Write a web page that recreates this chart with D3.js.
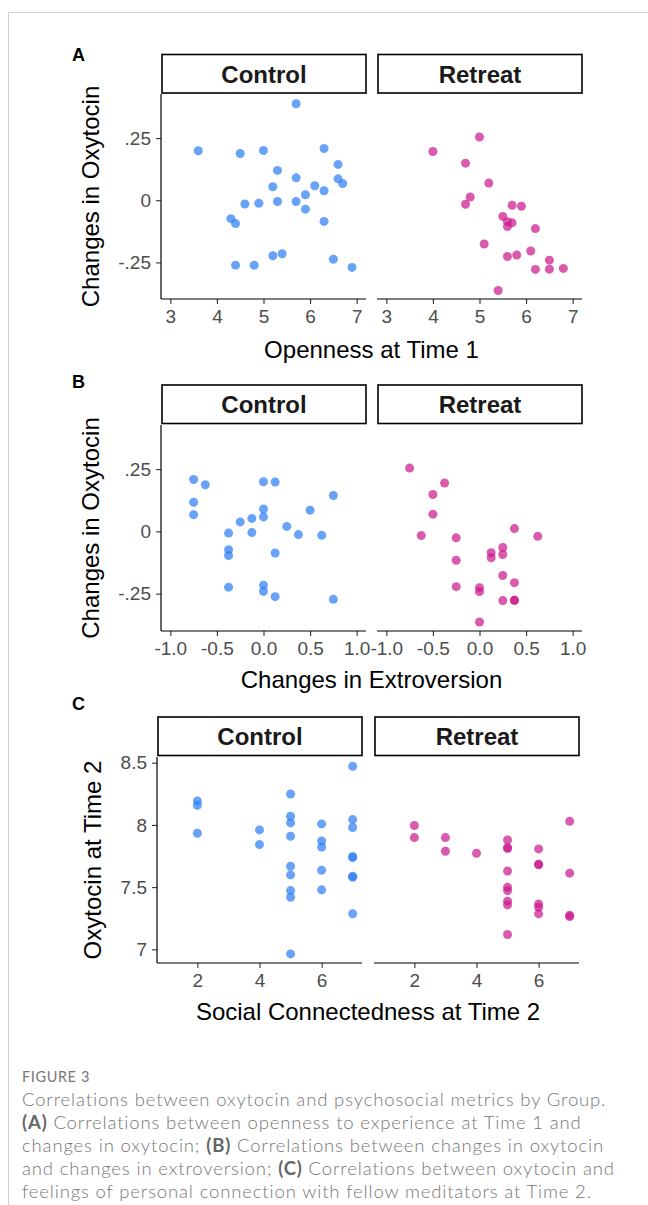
<!DOCTYPE html>
<html>
<head>
<meta charset="utf-8">
<script src="https://cdn.jsdelivr.net/npm/d3@7"></script>
<style>
  body { margin: 0; background: #fff; }
  svg { display: block; }
</style>
</head>
<body>
<div id="chart"></div>
<script>
const width = 648;
const height = 1205;

// Panel A: openness at time 1 (x) vs changes in oxytocin (y)
const opennessControl = [5.7, 3.6, 4.5, 5.0, 6.3, 6.6, 5.3, 5.7, 5.2, 6.6, 6.7, 6.1, 6.3, 5.9,
  4.6, 4.9, 5.3, 5.7, 5.9, 4.3, 4.4, 6.3, 5.2, 5.4, 6.5, 4.4, 4.8, 6.9];
const oxyChangeControlA = [0.388, 0.199, 0.188, 0.200, 0.208, 0.144, 0.120, 0.090, 0.054, 0.086, 0.067, 0.058, 0.038, 0.022,
  -0.015, -0.012, -0.005, -0.005, -0.036, -0.074, -0.094, -0.085, -0.223, -0.215, -0.237, -0.261, -0.261, -0.270];
const opennessRetreat = [5.0, 4.0, 4.7, 5.2, 4.8, 4.7, 5.7, 5.9, 5.5, 5.6, 5.7, 5.6, 6.2, 5.1,
  6.1, 5.6, 5.8, 6.5, 6.2, 6.5, 6.8, 5.4];
const oxyChangeRetreatA = [0.254, 0.196, 0.149, 0.069, 0.013, -0.016, -0.020, -0.024, -0.065, -0.086, -0.091, -0.106, -0.114, -0.176,
  -0.204, -0.226, -0.220, -0.241, -0.278, -0.277, -0.274, -0.363];

// Panel B: changes in extroversion (x) vs changes in oxytocin (y)
const extroControl = [-0.75, -0.625, -0.75, -0.75, 0, 0.125, 0.75, 0.5, 0, 0, -0.125, -0.25, 0.25,
  -0.375, -0.125, 0.375, 0.625, -0.375, -0.375, 0.125, -0.375, 0, 0, 0.125, 0.75];
const oxyChangeControlB = [0.208, 0.187, 0.117, 0.067, 0.199, 0.198, 0.144, 0.085, 0.090, 0.058, 0.052, 0.038, 0.020,
  -0.007, -0.005, -0.013, -0.016, -0.074, -0.097, -0.087, -0.224, -0.216, -0.241, -0.262, -0.273];
const extroRetreat = [-0.75, -0.375, -0.5, -0.5, 0.375, -0.625, -0.25, 0.625, 0.25, 0.125, 0.25, 0.125, -0.25,
  0.25, 0.375, -0.25, 0, 0, 0.25, 0.375, 0.375, 0];
const oxyChangeRetreatB = [0.254, 0.194, 0.148, 0.069, 0.011, -0.017, -0.026, -0.020, -0.065, -0.086, -0.093, -0.106, -0.116,
  -0.177, -0.206, -0.222, -0.226, -0.242, -0.278, -0.276, -0.278, -0.364];

// Panel C: social connectedness at time 2 (x) vs oxytocin at time 2 (y)
const connectControl = [2, 2, 2, 4, 4, 5, 5, 5, 5, 5, 5, 5, 5, 5, 6, 6, 6, 6, 6, 7, 7, 7, 7, 7, 7, 7, 7];
const oxytocinT2Control = [8.193, 8.158, 7.933, 7.960, 7.842, 8.249, 8.070, 8.016, 7.909, 7.668, 7.598, 7.472, 7.419, 6.963,
  8.008, 7.871, 7.821, 7.636, 7.478, 8.471, 8.043, 7.979, 7.746, 7.737, 7.587, 7.579, 7.285];
const connectRetreat = [2, 2, 3, 3, 4, 5, 5, 5, 5, 5, 5, 5, 5, 5, 6, 6, 6, 6, 6, 6, 7, 7, 7, 7];
const oxytocinT2Retreat = [7.995, 7.898, 7.898, 7.788, 7.772, 7.879, 7.818, 7.810, 7.630, 7.499, 7.472, 7.387, 7.357, 7.119,
  7.807, 7.684, 7.679, 7.365, 7.338, 7.285, 8.029, 7.612, 7.274, 7.263];

// facets and ticks
const groups = ["Control", "Retreat"];
const xTicksA = [3, 4, 5, 6, 7];
const xTicksB = [-1, -0.5, 0, 0.5, 1];
const xTicksC = [2, 4, 6];
const yTicksAB = [-0.25, 0, 0.25];
const yTickLabelsAB = ["-.25", "0", ".25"];
const yTicksC = [7, 7.5, 8, 8.5];
const yTickLabelsC = ["7", "7.5", "8", "8.5"];

const colors = { Control: "#2f7ff5", Retreat: "#cc1a8e" };

const svg = d3.select("#chart")
  .append("svg")
  .attr("width", width)
  .attr("height", height);

// page frame lines
svg.append("line")
  .attr("x1", 8.5).attr("x2", width).attr("y1", 12.5).attr("y2", 12.5)
  .attr("stroke", "#cfcfcf").attr("stroke-width", 1);
svg.append("line")
  .attr("x1", 8.5).attr("x2", 8.5).attr("y1", 12.5).attr("y2", height)
  .attr("stroke", "#cfcfcf").attr("stroke-width", 1);

const font = "'Liberation Sans', Arial, sans-serif";
const hyphen = f => d => f(d).replace("\u2212", "-");

const panels = [
  {
    tag: "A", tagY: 60.5, stripTop: 54.5, top: 94, bottom: 299, lefts: [161, 377],
    xDomain: [2.8, 7.2], yDomain: [-0.397, 0.427],
    xTicks: xTicksA, xFormat: hyphen(d3.format("d")),
    yTicks: yTicksAB, yLabels: yTickLabelsAB,
    xTitle: "Openness at Time 1", xTitleY: 358, yTitle: "Changes in Oxytocin", yTitleX: 99,
    series: {
      Control: [opennessControl, oxyChangeControlA],
      Retreat: [opennessRetreat, oxyChangeRetreatA]
    }
  },
  {
    tag: "B", tagY: 388, stripTop: 385, top: 425, bottom: 631, lefts: [161, 377],
    xDomain: [-1.1, 1.1], yDomain: [-0.40, 0.427],
    xTicks: xTicksB, xFormat: hyphen(d3.format(".1f")),
    yTicks: yTicksAB, yLabels: yTickLabelsAB,
    xTitle: "Changes in Extroversion", xTitleY: 688, yTitle: "Changes in Oxytocin", yTitleX: 99,
    series: {
      Control: [extroControl, oxyChangeControlB],
      Retreat: [extroRetreat, oxyChangeRetreatB]
    }
  },
  {
    tag: "C", tagY: 710, stripTop: 717, top: 757, bottom: 963, lefts: [157, 374],
    xDomain: [0.7, 7.3], yDomain: [6.89, 8.546],
    xTicks: xTicksC, xFormat: hyphen(d3.format("d")),
    yTicks: yTicksC, yLabels: yTickLabelsC,
    xTitle: "Social Connectedness at Time 2", xTitleY: 1020, yTitle: "Oxytocin at Time 2", yTitleX: 101,
    series: {
      Control: [connectControl, oxytocinT2Control],
      Retreat: [connectRetreat, oxytocinT2Retreat]
    }
  }
];

const panelW = 205;

panels.forEach(p => {
  // panel tag
  svg.append("text")
    .attr("x", 72).attr("y", p.tagY)
    .attr("font-family", font).attr("font-weight", "bold").attr("font-size", 18)
    .text(p.tag);

  const y = d3.scaleLinear().domain(p.yDomain).range([p.bottom, p.top]);

  groups.forEach((g, gi) => {
    const left = p.lefts[gi];
    const x = d3.scaleLinear().domain(p.xDomain).range([left, left + panelW]);

    // strip
    svg.append("rect")
      .attr("x", left + 1).attr("y", p.stripTop)
      .attr("width", panelW - 1).attr("height", 38.5)
      .attr("fill", "#fff").attr("stroke", "#000").attr("stroke-width", 1.6);
    svg.append("text")
      .attr("x", left + 1 + (panelW - 1) / 2).attr("y", p.stripTop + 28)
      .attr("text-anchor", "middle")
      .attr("font-family", font).attr("font-weight", "bold").attr("font-size", 24)
      .attr("fill", "#1a1a1a")
      .text(g);

    // x axis
    const xAxis = svg.append("g")
      .attr("transform", `translate(0,${p.bottom})`)
      .call(d3.axisBottom(x).tickValues(p.xTicks).tickFormat(p.xFormat)
        .tickSizeOuter(0).tickSize(5).tickPadding(6));
    xAxis.select(".domain").remove();
    xAxis.append("line")
      .attr("x1", left).attr("x2", left + panelW)
      .attr("stroke", "#000").attr("stroke-width", 1.2);
    xAxis.selectAll(".tick line").attr("stroke", "#333").attr("stroke-width", 1.1);
    xAxis.selectAll(".tick text")
      .attr("font-family", font).attr("font-size", 19).attr("fill", "#4d4d4d");

    // y axis only on the first facet
    if (gi === 0) {
      const yAxis = svg.append("g")
        .attr("transform", `translate(${left},0)`)
        .call(d3.axisLeft(y).tickValues(p.yTicks).tickFormat((d, i) => p.yLabels[i])
          .tickSizeOuter(0).tickSize(5).tickPadding(5));
      yAxis.select(".domain").remove();
      yAxis.append("line")
        .attr("y1", p.top).attr("y2", p.bottom)
        .attr("stroke", "#000").attr("stroke-width", 1.2);
      yAxis.selectAll(".tick line").attr("stroke", "#333").attr("stroke-width", 1.1);
      yAxis.selectAll(".tick text")
        .attr("font-family", font).attr("font-size", 19).attr("fill", "#4d4d4d");
    }

    // points
    const [xs, ys] = p.series[g];
    const pts = xs.map((v, i) => ({ x: v, y: ys[i] }));
    svg.append("g")
      .selectAll("circle")
      .data(pts)
      .enter().append("circle")
        .attr("cx", d => x(d.x))
        .attr("cy", d => y(d.y))
        .attr("r", 4.5)
        .attr("fill", colors[g])
        .attr("fill-opacity", 0.72);
  });

  // axis titles
  const midX = (p.lefts[0] + p.lefts[1] + panelW) / 2;
  svg.append("text")
    .attr("x", midX).attr("y", p.xTitleY)
    .attr("text-anchor", "middle")
    .attr("font-family", font).attr("font-size", 24).attr("fill", "#000")
    .text(p.xTitle);
  svg.append("text")
    .attr("transform", `translate(${p.yTitleX},${(p.top + p.bottom) / 2}) rotate(-90)`)
    .attr("text-anchor", "middle")
    .attr("font-family", font).attr("font-size", 24).attr("fill", "#000")
    .text(p.yTitle);
});

// caption
const captionFont = "Lato, 'Open Sans', sans-serif";
svg.append("text")
  .attr("x", 22).attr("y", 1082)
  .attr("font-family", captionFont).attr("font-size", 14.5).attr("fill", "#777")
  .attr("letter-spacing", 0.6)
  .text("FIGURE 3");

const captionLines = [
  [["", "Correlations between oxytocin and psychosocial metrics by Group."]],
  [["b", "(A)"], ["", " Correlations between openness to experience at Time 1 and"]],
  [["", "changes in oxytocin; "], ["b", "(B)"], ["", " Correlations between changes in oxytocin"]],
  [["", "and changes in extroversion; "], ["b", "(C)"], ["", " Correlations between oxytocin and"]],
  [["", "feelings of personal connection with fellow meditators at Time 2."]]
];

captionLines.forEach((line, i) => {
  const t = svg.append("text")
    .attr("x", 22).attr("y", 1106 + i * 23)
    .attr("font-family", captionFont).attr("font-size", 18.5)
    .attr("letter-spacing", 0.85)
    .attr("font-weight", 300).attr("fill", "#777");
  line.forEach(([w, s]) => {
    t.append("tspan")
      .attr("font-weight", w === "b" ? 700 : 300)
      .attr("fill", w === "b" ? "#666" : "#777")
      .style("white-space", "pre")
      .text(s);
  });
});
</script>
</body>
</html>
